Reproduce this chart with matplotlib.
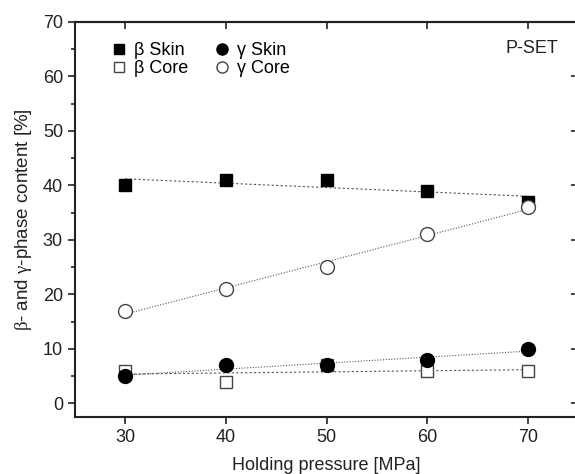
import numpy as np
import matplotlib
matplotlib.use("Agg")
import matplotlib.pyplot as plt
from matplotlib.ticker import MultipleLocator

plt.rcParams['font.family'] = ['Liberation Sans', 'DejaVu Sans']
plt.rcParams['mathtext.fontset'] = 'custom'
plt.rcParams['mathtext.rm'] = 'Liberation Serif'
plt.rcParams['mathtext.it'] = 'Liberation Serif'

# holding pressure [MPa]
pressure = [30, 40, 50, 60, 70]
beta_skin = [40, 41, 41, 39, 37]
gamma_skin = [5, 7, 7, 8, 10]
beta_core = [6, 4, 7, 6, 6]
gamma_core = [17, 21, 25, 31, 36]

fig = plt.figure(figsize=(5.75, 4.74), dpi=100)
# right spine sits just outside the picture, as in the original
ax = fig.add_axes([0.130, 0.120, 0.876, 0.834])

x = np.array(pressure)
xx = np.array([30, 70])

# linear fits
for ys, ls in [(beta_skin, (0, (2, 2))), (gamma_skin, (0, (1, 1.5))),
               (beta_core, (0, (2, 2))), (gamma_core, (0, (1, 1.5)))]:
    p = np.polyfit(x, ys, 1)
    ax.plot(xx, np.polyval(p, xx), color='#555555', lw=0.8, ls=ls, zorder=1)

ms = 9
ax.plot(pressure, beta_skin, 's', color='black', ms=ms, label='β Skin', zorder=3)
ax.plot(pressure, beta_core, 's', mfc='white', mec='#444444', mew=1.0, ms=ms, label='β Core', zorder=3)
ax.plot(pressure, gamma_skin, 'o', color='black', ms=ms + 1, label='γ Skin', zorder=3)
ax.plot(pressure, gamma_core, 'o', mfc='white', mec='#444444', mew=1.0, ms=ms + 1, label='γ Core', zorder=3)

ax.set_xlim(25, 75)
ax.set_ylim(-2.5, 70)
ax.set_xticks(pressure)
ax.yaxis.set_major_locator(MultipleLocator(10))
ax.yaxis.set_minor_locator(MultipleLocator(5))

ax.tick_params(axis='both', which='both', labelsize=13, colors='#222222')
ax.tick_params(axis='both', which='major', direction='out', length=5, width=1.2)
ax.tick_params(axis='y', which='minor', direction='out', length=3, width=1.2)
for s in ax.spines.values():
    s.set_linewidth(1.5)
    s.set_color('#222222')

# inward ticks on top and right
top = ax.secondary_xaxis('top')
top.set_xticks(pressure)
top.tick_params(direction='in', length=5, width=1.2, labeltop=False, colors='#222222')
right = ax.secondary_yaxis('right')
right.yaxis.set_major_locator(MultipleLocator(10))
right.yaxis.set_minor_locator(MultipleLocator(5))
right.tick_params(which='major', direction='in', length=5, width=1.2, labelright=False, colors='#222222')
right.tick_params(which='minor', direction='in', length=2, width=1.2, colors='#222222')
for sec in (top, right):
    for s in sec.spines.values():
        s.set_linewidth(1.5)
        s.set_color('#222222')

ax.set_xlabel('Holding pressure [MPa]', fontsize=13, color='#222222', labelpad=8)
ax.set_ylabel(r'$\beta$- and $\gamma$-phase content [%]', fontsize=13.5, color='#222222',
              labelpad=6)

ax.legend(ncol=2, loc='upper left', bbox_to_anchor=(0.038, 0.99), frameon=False,
          fontsize=13, handletextpad=0.3, columnspacing=1.4, labelspacing=0.05,
          handlelength=1.0, markerscale=0.8)
ax.text(0.96, 0.932, 'P-SET', transform=ax.transAxes, ha='right', va='center',
        fontsize=13, color='#222222')

fig.savefig('out.png', dpi=100)
